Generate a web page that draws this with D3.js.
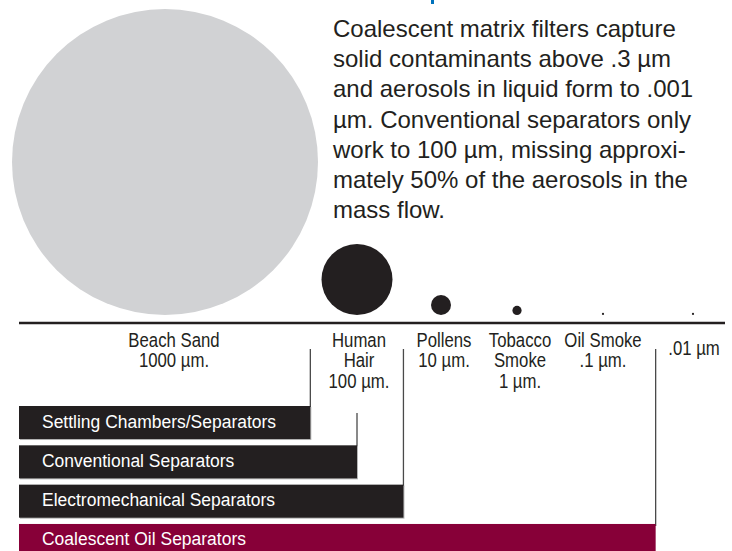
<!DOCTYPE html>
<html>
<head>
<meta charset="utf-8">
<script src="https://cdn.jsdelivr.net/npm/d3@7"></script>
<style>
  html, body { margin: 0; padding: 0; background: #fff; }
  svg { display: block; }
</style>
</head>
<body>
<svg id="chart" width="732" height="551"></svg>
<script>
// ---------- data ----------
const particleNames = [["Beach Sand"], ["Human", "Hair"], ["Pollens"], ["Tobacco", "Smoke"], ["Oil Smoke"], []];
const particleSizes = [1000, 100, 10, 1, 0.1, 0.01];          // µm
const sizeLabels = ["1000  µm.", "100 µm.", "10 µm.", "1 µm.", ".1 µm.", ".01 µm"];
const separatorNames = ["Settling Chambers/Separators", "Conventional Separators", "Electromechanical Separators", "Coalescent Oil Separators"];
const separatorLimits = [175, 100, 28, 0.026];                 // smallest particle reached, µm (estimated)
const paragraphLines = [
  "Coalescent matrix filters capture",
  "solid contaminants above .3 µm",
  "and aerosols in liquid form to .001",
  "µm. Conventional separators only",
  "work to 100 µm, missing approxi-",
  "mately 50% of the aerosols in the",
  "mass flow."
];

// ---------- setup ----------
const svg = d3.select("#chart");
const ink = "#231f20";
const sans = "'Liberation Sans', Arial, Helvetica, sans-serif";

const x = d3.scaleLog().domain(particleSizes).range([165, 357, 441, 517, 603, 693]);
const r = d3.scaleLog().domain([1000, 100, 10, 1, 0.1]).range([153, 35.5, 10, 4.6, 1.1]).clamp(true);
const y = d3.scaleBand().domain(separatorNames).range([406, 557]).paddingInner(0.16).paddingOuter(0);

const groundY = 315;
const axisY = 323;
const left = 19, right = 725;

// fragment of the (clipped) blue heading above the frame
svg.append("rect").attr("x", 431).attr("y", 0).attr("width", 3).attr("height", 4).attr("fill", "#0072bc");

// ---------- particles ----------
const parts = particleSizes.map((s, i) => ({ size: s, names: particleNames[i], label: sizeLabels[i], i }));

svg.append("g").selectAll("circle").data(parts).join("circle")
  .attr("cx", d => x(d.size))
  .attr("cy", d => groundY - r(d.size))
  .attr("r", d => r(d.size))
  .attr("fill", d => d.i === 0 ? "#d1d2d4" : ink);

// axis line
svg.append("line").attr("x1", left).attr("x2", right).attr("y1", axisY).attr("y2", axisY)
  .attr("stroke", ink).attr("stroke-width", 2.6);

// labels (condensed look via horizontal scaling)
const labelDx = [9, 2, 3, 3, 0, 1];
const lineH = 20.4;
const lab = svg.append("g").attr("font-family", sans).attr("font-size", 19.5)
  .attr("fill", ink).attr("text-anchor", "middle");
parts.forEach(d => {
  const lines = d.names.concat([d.label]);
  const g = lab.append("g")
    .attr("transform", `translate(${x(d.size) + labelDx[d.i]},0) scale(0.86,1)`);
  const t = g.append("text").attr("x", 0).attr("y", d.names.length ? 347 : 355);
  lines.forEach((ln, k) => {
    t.append("tspan").attr("x", 0).attr("dy", k === 0 ? 0 : lineH).text(ln);
  });
});

// ---------- separators ----------
const seps = separatorNames.map((n, i) => ({ name: n, limit: separatorLimits[i], i }));
const bw = y.bandwidth();

// vertical reach lines
svg.append("g").selectAll("line").data(seps).join("line")
  .attr("x1", d => x(d.limit)).attr("x2", d => x(d.limit))
  .attr("y1", d => d.i === 1 ? y(separatorNames[0]) + 7 : 349)
  .attr("y2", d => y(d.name) + 2)
  .attr("stroke", "#4a4a4a").attr("stroke-width", 1.3);

// bar shadows
svg.append("g").selectAll("rect").data(seps.slice(0, 3)).join("rect")
  .attr("x", left + 1).attr("y", d => y(d.name) + 1)
  .attr("width", d => x(d.limit) - left).attr("height", bw)
  .attr("fill", "#b5b5b5");

svg.append("g").selectAll("rect").data(seps).join("rect")
  .attr("x", left).attr("y", d => y(d.name))
  .attr("width", d => x(d.limit) - left).attr("height", bw)
  .attr("fill", d => d.i === 3 ? "#870038" : ink);

svg.append("g").attr("font-family", sans).attr("font-size", 19).attr("fill", "#fff")
  .selectAll("g").data(seps).join("g")
  .attr("transform", d => `translate(42,${y(d.name) + 21.5}) scale(0.92,1)`)
  .append("text").attr("x", 0).attr("y", 0)
  .text(d => d.name);

// ---------- paragraph ----------
svg.append("g").attr("font-family", sans).attr("font-size", 24).attr("fill", ink)
  .selectAll("text").data(paragraphLines).join("text")
  .attr("x", 333).attr("y", (d, i) => 37 + i * 30.2)
  .text(d => d);
</script>
</body>
</html>
